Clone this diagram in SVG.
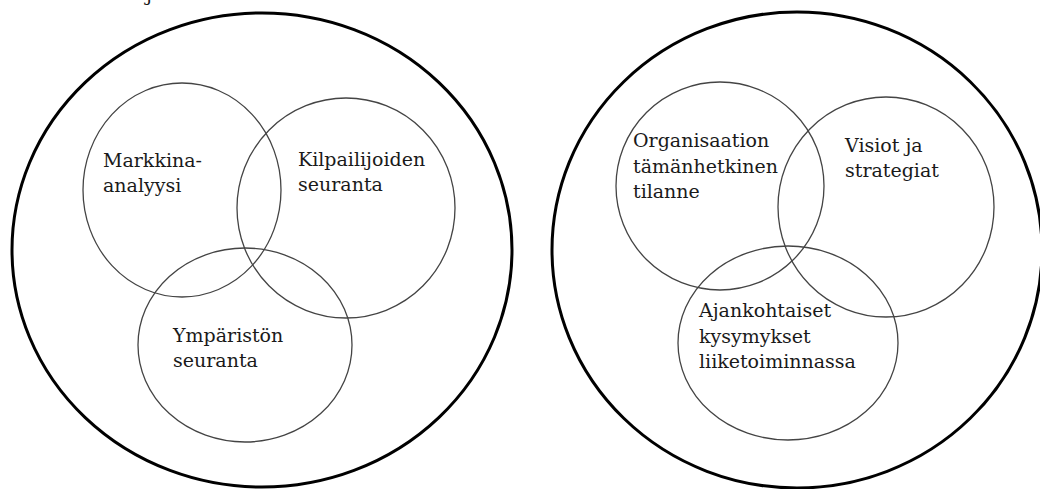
<svg xmlns="http://www.w3.org/2000/svg" width="1040" height="489" viewBox="0 0 1040 489">
  <style>
    .outer { fill: none; stroke: #000; stroke-width: 3; }
    .inner { fill: none; stroke: #444; stroke-width: 1.3; }
    .lbl { font-family: "DejaVu Serif", "Liberation Serif", serif; font-size: 19px; fill: #1a1a1a; }
  </style>
  <rect width="1040" height="489" fill="#fff"/>

  <!-- caption fragment at top edge -->
  <text class="lbl" x="146" y="1">j</text>

  <!-- left diagram: external analysis -->
  <g id="left-frame">
    <ellipse class="outer" cx="262" cy="250" rx="250" ry="237"/>
  </g>
  <g id="markkina-analyysi">
    <ellipse class="inner" cx="182" cy="190" rx="99" ry="107"/>
    <text class="lbl" x="103" y="167">Markkina-</text>
    <text class="lbl" x="103" y="192">analyysi</text>
  </g>
  <g id="kilpailijoiden-seuranta">
    <ellipse class="inner" cx="346" cy="208" rx="109" ry="110"/>
    <text class="lbl" x="298" y="166">Kilpailijoiden</text>
    <text class="lbl" x="298" y="191">seuranta</text>
  </g>
  <g id="ympariston-seuranta">
    <ellipse class="inner" cx="245" cy="345" rx="107" ry="97"/>
    <text class="lbl" x="173" y="342">Ympäristön</text>
    <text class="lbl" x="173" y="367">seuranta</text>
  </g>

  <!-- right diagram: internal analysis -->
  <g id="right-frame">
    <ellipse class="outer" cx="797" cy="250" rx="245" ry="238"/>
  </g>
  <g id="organisaation-tilanne">
    <ellipse class="inner" cx="720" cy="186" rx="104" ry="104"/>
    <text class="lbl" x="633" y="147">Organisaation</text>
    <text class="lbl" x="633" y="173">tämänhetkinen</text>
    <text class="lbl" x="633" y="198">tilanne</text>
  </g>
  <g id="visiot-ja-strategiat">
    <ellipse class="inner" cx="886" cy="207" rx="108" ry="110"/>
    <text class="lbl" x="845" y="152">Visiot ja</text>
    <text class="lbl" x="845" y="177">strategiat</text>
  </g>
  <g id="ajankohtaiset-kysymykset">
    <ellipse class="inner" cx="788" cy="343" rx="110" ry="97"/>
    <text class="lbl" x="699" y="317">Ajankohtaiset</text>
    <text class="lbl" x="699" y="343">kysymykset</text>
    <text class="lbl" x="699" y="368">liiketoiminnassa</text>
  </g>

  <g id="connectors"></g>
</svg>
